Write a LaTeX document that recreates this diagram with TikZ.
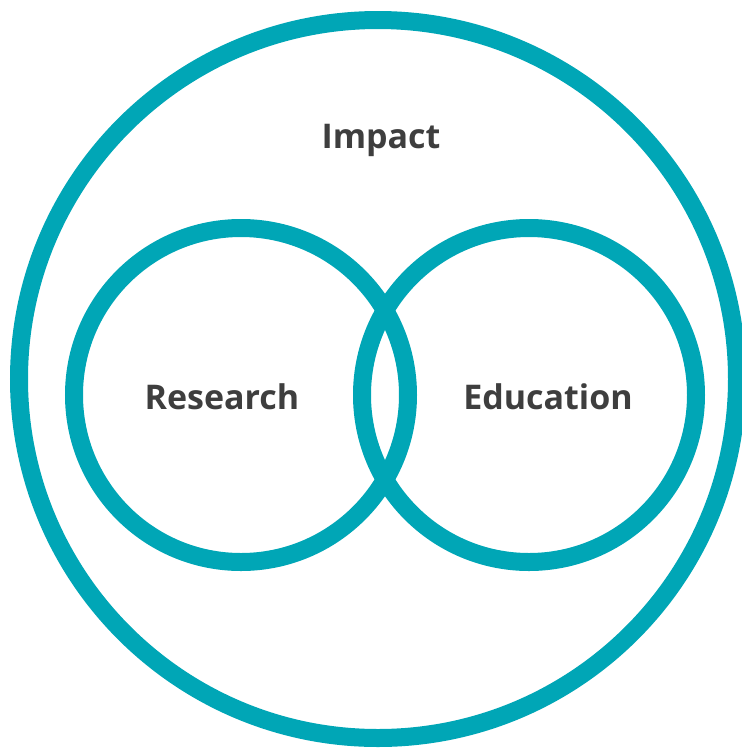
\documentclass[tikz,border=0pt]{standalone}
\usepackage{fontspec}
\setmainfont{Open Sans}
\definecolor{ringteal}{RGB}{0,166,182}
\definecolor{labelgray}{RGB}{62,62,62}
\begin{document}
\begin{tikzpicture}[x=1pt,y=-1pt,
  ring/.style={draw=ringteal,line width=18pt},
  lbl/.style={text=labelgray,font=\fontsize{34}{34}\selectfont\bfseries,inner sep=0pt,anchor=base}]
\useasboundingbox (0,0) rectangle (742,748);
\node[ring,circle,minimum size=718pt,inner sep=0pt] (impactring) at (378,379) {};
\node[ring,circle,minimum size=334pt,inner sep=0pt] (researchring) at (241,395) {};
\node[ring,circle,minimum size=334pt,inner sep=0pt] (educationring) at (529,395) {};
\node[lbl] (impact) at (381,148) {Impact};
\node[lbl] (research) at (222,409) {Research};
\node[lbl] (education) at (548,409) {Education};
\end{tikzpicture}
\end{document}
